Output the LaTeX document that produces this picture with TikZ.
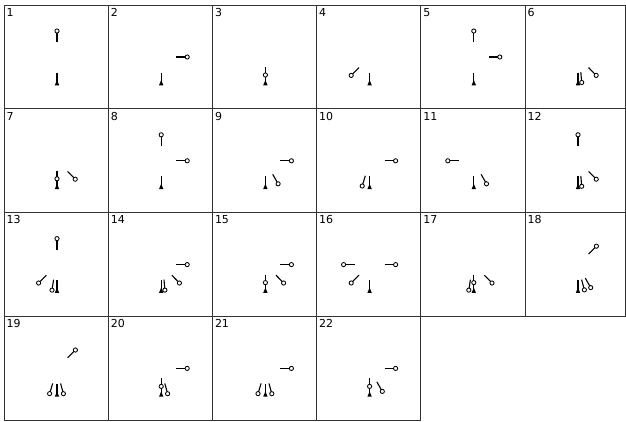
\documentclass[tikz,border=0pt]{standalone}
\usepackage{fontspec}
\setmainfont{DejaVu Sans}

\begin{document}
\begin{tikzpicture}[x=1pt,y=-1pt,
    frame/.style={draw=black!80,line width=1pt},
    num/.style={anchor=north west,inner sep=0pt,font=\fontsize{11}{12}\selectfont},
    pegstem/.style={line width=1.1pt},
    peghead/.style={draw,line width=0.85pt,fill=white},
    pics/peg/.style 2 args={code={
      \draw[pegstem] (#1) -- (#2);
      \draw[peghead] (#2) circle[radius=2.1pt];}},
    pics/base/.style={code={
      \draw[pegstem] (53,67.5) -- (53,77);
      \fill (53,75) -- (50.8,80.3) -- (55.2,80.3) -- cycle;}},
    % pegs round the centre (53,52)
    pics/pegN/.style={peg={53,37}{53,26}},
    pics/pegE/.style={peg={68,52}{79,52}},
    pics/pegW/.style={peg={38,52}{27,52}},
    pics/pegSW/.style={peg={42.4,62.6}{34.6,70.4}},
    pics/pegNE/.style={peg={63.6,41.4}{71.4,33.6}},
    pics/pegSE/.style={peg={63.6,62.6}{71.2,70.4}},
    % pegs hanging at the base
    pics/drop/.style={peg={53,62}{53,70}},
    pics/hangR/.style={peg={55.8,67}{56.7,77.5}},
    pics/hangL/.style={peg={49.6,67}{48,77.5}},
    pics/tiltL/.style={peg={48.7,67}{45.6,77.2}},
    pics/tiltR/.style={peg={56.6,67}{59.4,77.3}},
    pics/swingR/.style={peg={60.3,65.5}{65.7,75}}]

  \useasboundingbox (0,0) rectangle (626,421);

  % frames and numbers
  \foreach \k in {1,...,22}{
    \pgfmathtruncatemacro{\col}{mod(\k-1,6)}
    \pgfmathtruncatemacro{\row}{div(\k-1,6)}
    \coordinate (p\k) at ({4+104.2*\col},{5+103.8*\row});
    \draw[frame] (p\k) rectangle ++({min(104.2,621.5-104.2*\col)},103.8);
    \node[num] (n\k) at ([shift={(2.4,3)}]p\k) {\k};
  }

  \path (p1)  pic{pegN} pic{base};
  \path (p2)  pic{pegE} pic{base};
  \path (p3)  pic{base} pic{drop};
  \path (p4)  pic{pegSW} pic{base};
  \path (p5)  pic{pegN} pic{pegE} pic{base};
  \path (p6)  pic{pegSE} pic{base} pic{hangR};
  \path (p7)  pic{pegSE} pic{base} pic{drop};
  \path (p8)  pic{pegN} pic{pegE} pic{base};
  \path (p9)  pic{pegE} pic{base} pic{swingR};
  \path (p10) pic{pegE} pic{base} pic{tiltL};
  \path (p11) pic{pegW} pic{base} pic{swingR};
  \path (p12) pic{pegN} pic{pegSE} pic{base} pic{hangR};
  \path (p13) pic{pegN} pic{pegSW} pic{base} pic{hangL};
  \path (p14) pic{pegE} pic{pegSE} pic{base} pic{hangR};
  \path (p15) pic{pegE} pic{pegSE} pic{base} pic{drop};
  \path (p16) pic{pegW} pic{pegE} pic{pegSW} pic{base};
  \path (p17) pic{pegSE} pic{base} pic{drop} pic{hangL};
  \path (p18) pic{pegNE} pic{base} pic{tiltR} pic{swingR};
  \path (p19) pic{pegNE} pic{base} pic{tiltL} pic{tiltR};
  \path (p20) pic{pegE} pic{base} pic{drop} pic{tiltR};
  \path (p21) pic{pegE} pic{base} pic{tiltL} pic{tiltR};
  \path (p22) pic{pegE} pic{base} pic{drop} pic{swingR};
\end{tikzpicture}
\end{document}
